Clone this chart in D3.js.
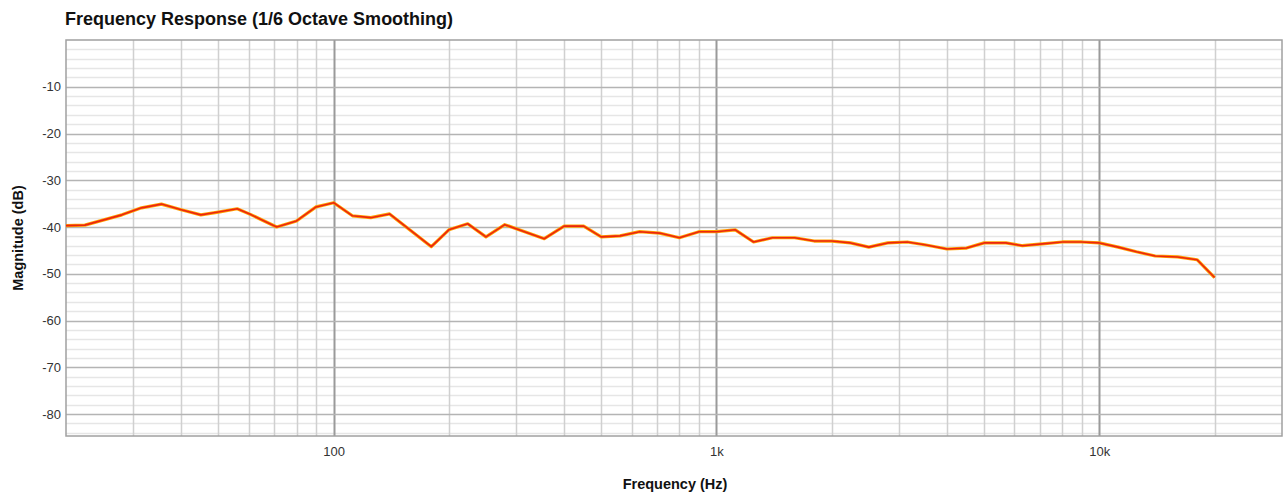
<!DOCTYPE html>
<html>
<head>
<meta charset="utf-8">
<script src="https://cdn.jsdelivr.net/npm/d3@7"></script>
<style>
  body { margin: 0; background: #fff; }
  svg { display: block; font-family: "Liberation Sans", Arial, sans-serif; }
</style>
</head>
<body>
<svg id="chart"></svg>
<script>
const width = 1283;
const height = 494;

// frequency (Hz) and magnitude (dB) of each vertex of the curve
const freqs = [20, 22.4, 28, 31.5, 35.5, 40, 45, 50, 56, 61, 71, 80, 90, 100, 112, 125, 140,
  180, 200, 224, 250, 280, 355, 400, 450, 500, 560, 630, 710, 800, 900, 1000, 1120, 1250,
  1400, 1600, 1800, 2000, 2240, 2500, 2800, 3150, 3500, 4000, 4500, 5000, 5700, 6300, 7100,
  8000, 9000, 10000, 11200, 12500, 14000, 16000, 18000, 20000];
const magnitude = [-39.7, -39.6, -37.4, -35.9, -35.1, -36.3, -37.4, -36.8, -36.1, -37.4, -40.0,
  -38.7, -35.7, -34.8, -37.6, -38.0, -37.2, -44.2, -40.6, -39.3, -42.1, -39.5, -42.5, -39.8,
  -39.8, -42.1, -41.9, -41.0, -41.3, -42.3, -41.0, -41.0, -40.6, -43.2, -42.3, -42.3, -43.0,
  -43.0, -43.4, -44.3, -43.4, -43.2, -43.8, -44.7, -44.5, -43.4, -43.4, -44.0, -43.6, -43.2,
  -43.2, -43.4, -44.3, -45.3, -46.2, -46.4, -47.0, -50.8];

const xDomain = [20, 30000];
const yDomain = [-84.7, 0];
const xTickLabels = [[100, '100'], [1000, '1k'], [10000, '10k']];
const yTicks = [-10, -20, -30, -40, -50, -60, -70, -80];

const plot = { left: 66, right: 1282, top: 40, bottom: 436 };

const svg = d3.select('#chart')
  .attr('width', width)
  .attr('height', height);

const x = d3.scaleLog().domain(xDomain).range([plot.left, plot.right]);
const y = d3.scaleLinear().domain(yDomain).range([plot.bottom, plot.top]);

// horizontal grid: minor every 2 dB, major every 10 dB
const minorY = d3.range(-84, 0, 2).filter(v => v % 10 !== 0);
svg.append('g')
  .selectAll('line')
  .data(minorY)
  .join('line')
  .attr('x1', plot.left).attr('x2', plot.right)
  .attr('y1', d => Math.round(y(d)) + 0.5).attr('y2', d => Math.round(y(d)) + 0.5)
  .style('stroke', '#e6e6e6')
  .style('stroke-width', 1.5);

// vertical grid
const vTicks = x.ticks().filter(v => v > xDomain[0] && v < xDomain[1]);
svg.append('g')
  .selectAll('line')
  .data(vTicks)
  .join('line')
  .attr('x1', d => Math.round(x(d)) + 0.5).attr('x2', d => Math.round(x(d)) + 0.5)
  .attr('y1', plot.top).attr('y2', plot.bottom)
  .style('stroke', d => [100, 1000, 10000].includes(d) ? '#9a9a9a' : '#d0d0d0')
  .style('stroke-width', d => [100, 1000, 10000].includes(d) ? 2 : 1.5);

svg.append('g')
  .selectAll('line')
  .data(yTicks)
  .join('line')
  .attr('x1', plot.left).attr('x2', plot.right)
  .attr('y1', d => Math.round(y(d)) + 0.5).attr('y2', d => Math.round(y(d)) + 0.5)
  .style('stroke', '#b4b4b4')
  .style('stroke-width', 1.5);

// frame
svg.append('rect')
  .attr('x', plot.left).attr('y', plot.top)
  .attr('width', plot.right - plot.left).attr('height', plot.bottom - plot.top)
  .style('fill', 'none')
  .style('stroke', '#a0a0a0')
  .style('stroke-width', 1.5);

// axes (labels only, no domain/ticks)
const yAxis = d3.axisLeft(y).tickValues(yTicks).tickFormat(d => String(d)).tickSize(0).tickPadding(4);
svg.append('g')
  .attr('transform', `translate(${plot.left - 1},0)`)
  .call(yAxis)
  .call(g => g.select('.domain').remove())
  .call(g => g.selectAll('text')
    .style('font-family', '"Liberation Sans", Arial, sans-serif')
    .style('font-size', '13px')
    .style('fill', '#333'));

const xAxis = d3.axisBottom(x)
  .tickValues(xTickLabels.map(d => d[0]))
  .tickFormat(d => xTickLabels.find(t => t[0] === d)[1])
  .tickSize(0).tickPadding(11);
svg.append('g')
  .attr('transform', `translate(0,${plot.bottom})`)
  .call(xAxis)
  .call(g => g.select('.domain').remove())
  .call(g => g.selectAll('text')
    .style('font-family', '"Liberation Sans", Arial, sans-serif')
    .style('font-size', '13px')
    .style('fill', '#333'));

// response curve
const line = d3.line()
  .x((d, i) => x(freqs[i]))
  .y(d => y(d));

svg.append('path')
  .datum(magnitude)
  .attr('d', line)
  .style('fill', 'none')
  .style('stroke', '#ffa200')
  .style('stroke-width', 3.2)
  .style('stroke-linejoin', 'round');

svg.append('path')
  .datum(magnitude)
  .attr('d', line)
  .style('fill', 'none')
  .style('stroke', '#ec2410')
  .style('stroke-width', 1.6)
  .style('stroke-linejoin', 'round');

// titles
svg.append('text')
  .attr('x', 65).attr('y', 25)
  .style('font-size', '18px')
  .style('font-weight', 'bold')
  .style('fill', '#111')
  .text('Frequency Response (1/6 Octave Smoothing)');

svg.append('text')
  .attr('transform', `translate(23,${(plot.top + plot.bottom) / 2}) rotate(-90)`)
  .attr('text-anchor', 'middle')
  .style('font-size', '14.5px')
  .style('font-weight', 'bold')
  .style('fill', '#111')
  .text('Magnitude (dB)');

svg.append('text')
  .attr('x', (plot.left + plot.right) / 2 + 1).attr('y', 489)
  .attr('text-anchor', 'middle')
  .style('font-size', '14.5px')
  .style('font-weight', 'bold')
  .style('fill', '#111')
  .text('Frequency (Hz)');
</script>
</body>
</html>
